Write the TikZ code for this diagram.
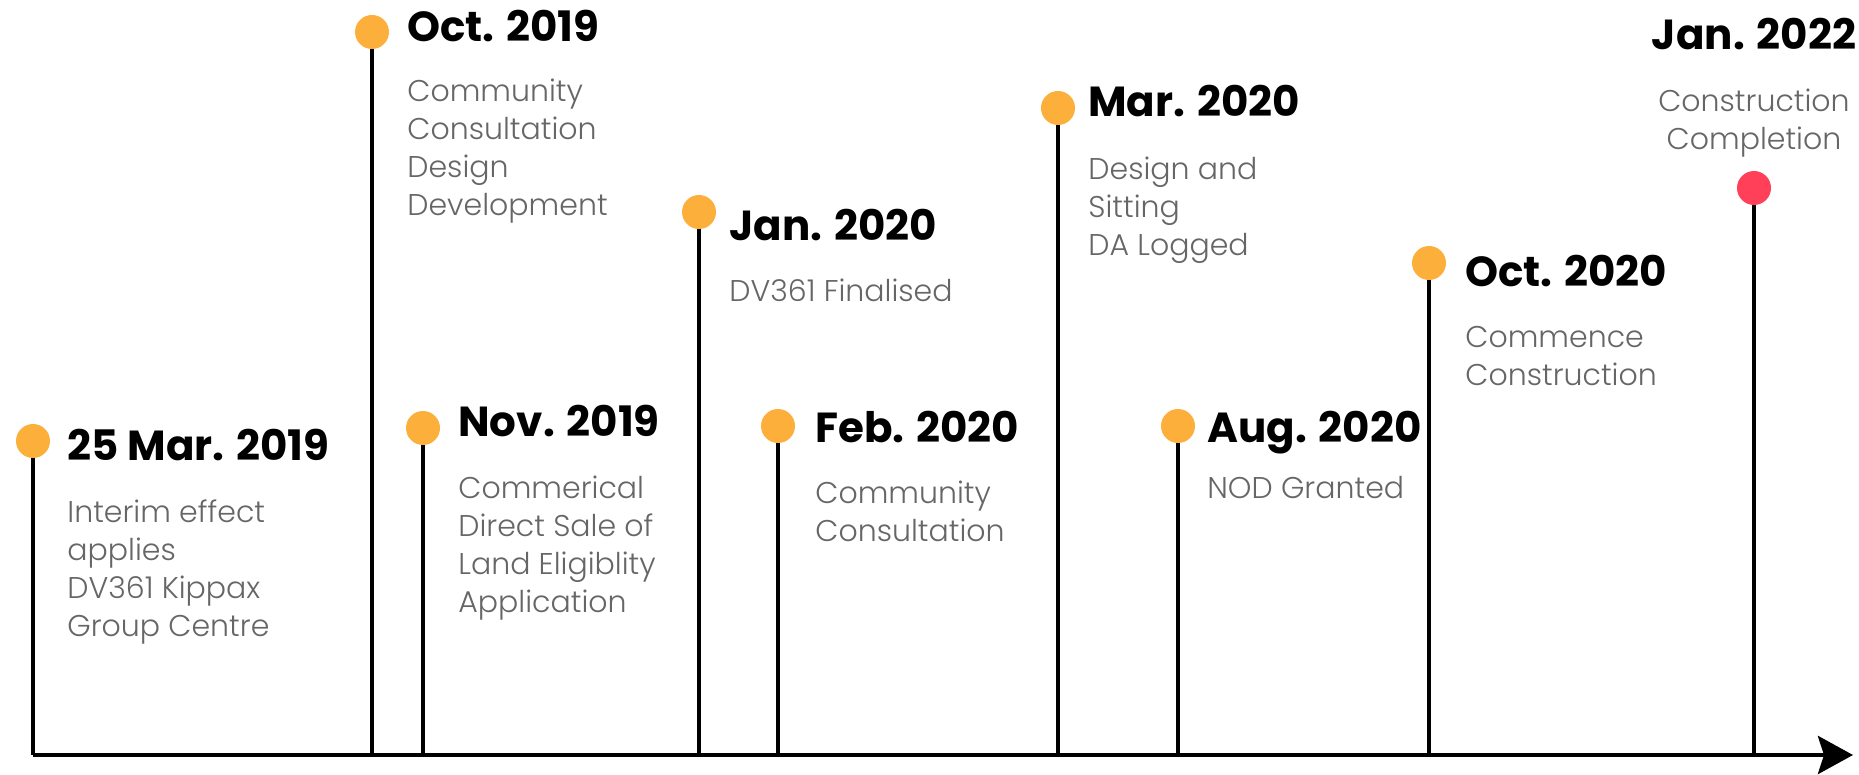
\documentclass[tikz,border=0pt]{standalone}
\usepackage{fontspec}
\setmainfont{Poppins}
\newfontfamily\datefont{Poppins Bold}
\newfontfamily\notefont{Poppins Light}
\usepackage{xcolor}
\usepackage{tikz}
\usetikzlibrary{arrows.meta}

\definecolor{dotorange}{RGB}{252,175,59}
\definecolor{dotred}{RGB}{255,64,88}
\definecolor{notegray}{RGB}{102,102,102}
\newcommand{\notelines}[1]{\begin{tabular}[t]{@{}l@{}}#1\end{tabular}}
\newcommand{\notecentre}[1]{\begin{tabular}[t]{@{}c@{}}#1\end{tabular}}

\begin{document}
\begin{tikzpicture}[x=0.5pt,y=-0.5pt,>={Stealth[length=17.5pt,width=19pt,inset=3pt]}]
\tikzstyle{event}=[circle,fill=dotorange,minimum size=17pt,inner sep=0pt]
\tikzstyle{final}=[event,fill=dotred]
\tikzstyle{stem}=[draw,line width=2.3pt]
\tikzstyle{date}=[inner sep=0pt,anchor=base west,font=\datefont\fontsize{21}{24}\selectfont]
\tikzstyle{note}=[inner sep=0pt,anchor=base west,text=notegray,font=\notefont\fontsize{15}{19}\selectfont]
\useasboundingbox (0,0) rectangle (1859,775);
\coordinate (start) at (33,755);
\coordinate (end) at (1853,755);
\foreach \pos/\name in {{(33,441)/e_1},{(372,32)/e_2},{(423,428)/e_3},{(699,212)/e_4},
  {(778,426)/e_5},{(1058,108)/e_6},{(1178,426)/e_7},{(1429,263)/e_8}}
  \node[event] (\name) at \pos {};
\node[final] (e_9) at (1754,188) {};
\foreach \n in {1,...,9} {
  \coordinate (t_\n) at (e_\n |- start);
  \path[stem] (e_\n) -- (t_\n);
}
\draw[->,line width=2.4pt] (start) -- (end);
% dates and notes
\node[date] (d_1) at (67,460) {25 Mar. 2019};
\node[note] (n_1) at (67,522) {\notelines{Interim effect\\applies\\DV361 Kippax\\Group Centre}};
\node[date] (d_2) at (407,42) {Oct. 2019};
\node[note] (n_2) at (407,102) {\notelines{Community\\Consultation\\Design\\Development}};
\node[date] (d_3) at (458,437) {Nov. 2019};
\node[note] (n_3) at (458,498) {\notelines{Commerical\\Direct Sale of\\Land Eligiblity\\Application}};
\node[date] (d_4) at (729,241) {Jan. 2020};
\node[note] (n_4) at (729,302) {DV361 Finalised};
\node[date] (d_5) at (815,443) {Feb. 2020};
\node[note] (n_5) at (815,503) {\notelines{Community\\Consultation}};
\node[date] (d_6) at (1088,117) {Mar. 2020};
\node[note] (n_6) at (1088,180) {\notelines{Design and\\Sitting\\DA Logged}};
\node[date] (d_7) at (1207,443) {Aug. 2020};
\node[note] (n_7) at (1207,498) {NOD Granted};
\node[date] (d_8) at (1465,287) {Oct. 2020};
\node[note] (n_8) at (1465,348) {\notelines{Commence\\Construction}};
\node[date,anchor=base] (d_9) at (1754,50) {Jan. 2022};
\node[note,anchor=base] (n_9) at (1754,112) {\notecentre{Construction\\Completion}};
\end{tikzpicture}
\end{document}
